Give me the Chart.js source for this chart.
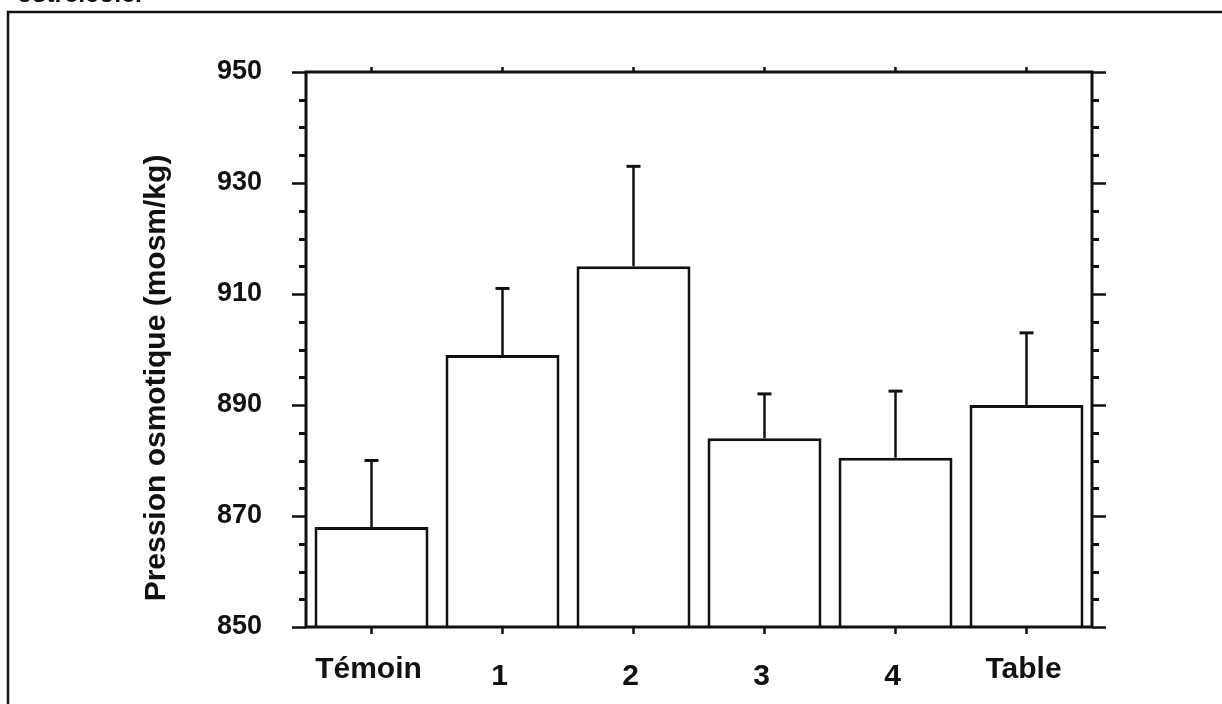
<!DOCTYPE html>
<html>
<head>
<meta charset="utf-8">
<script src="https://cdn.jsdelivr.net/npm/chart.js@4/dist/chart.umd.min.js"></script>
<style>
  html, body { margin: 0; padding: 0; background: #fff; }
  #wrap { position: relative; width: 1222px; height: 704px; overflow: hidden; }
  #caption { position: absolute; left: 17px; top: -21px; font: bold 25px 'Liberation Sans', Arial, sans-serif; color: #111; line-height: 29px; }
</style>
</head>
<body>
<div id="wrap">
  <div id="caption">ostréicole.</div>
  <canvas id="chart" width="1222" height="704"></canvas>
</div>
<script>
// data
const categories = ['Témoin', '1', '2', '3', '4', 'Table'];
const means = [868, 899, 915, 884, 880.5, 890];
const errors = [12, 12, 18, 8, 12, 13];
const yMin = 850;
const yMax = 950;
const yStep = 20;
const yMinorStep = 5;
const yTitle = 'Pression osmotique (mosm/kg)';

const FONT = "'Liberation Sans', Arial, Helvetica, sans-serif";
const INK = '#111';

// frame, ticks, error bars and labels drawn on top of the bars
const decorations = {
  id: 'decorations',
  afterDatasetsDraw(chart) {
    const ctx = chart.ctx;
    const area = chart.chartArea;
    const x = chart.scales.x;
    const y = chart.scales.y;
    ctx.save();
    ctx.strokeStyle = INK;
    ctx.fillStyle = INK;
    ctx.lineCap = 'butt';

    // page frame (only left and top edges are in the picture)
    ctx.lineWidth = 2.5;
    ctx.beginPath();
    ctx.moveTo(8, 720);
    ctx.lineTo(8, 12);
    ctx.lineTo(1240, 12);
    ctx.stroke();

    // error bars (upper half only)
    ctx.lineWidth = 2.5;
    means.forEach((m, i) => {
      const px = x.getPixelForValue(i);
      const y0 = y.getPixelForValue(m);
      const y1 = y.getPixelForValue(m + errors[i]);
      ctx.beginPath();
      ctx.moveTo(px, y0);
      ctx.lineTo(px, y1);
      ctx.stroke();
      ctx.lineWidth = 3;
      ctx.beginPath();
      ctx.moveTo(px - 7, y1);
      ctx.lineTo(px + 7, y1);
      ctx.stroke();
      ctx.lineWidth = 2.5;
    });

    // axis box
    ctx.lineWidth = 3;
    ctx.strokeRect(area.left, area.top, area.right - area.left, area.bottom - area.top);

    // y ticks, both sides, pointing outwards
    for (let v = yMin; v <= yMax; v += yMinorStep) {
      const py = Math.round(y.getPixelForValue(v)) + 0.5;
      const major = (v - yMin) % yStep === 0;
      const len = major ? 14 : 7;
      ctx.lineWidth = major ? 2.5 : 3;
      ctx.beginPath();
      ctx.moveTo(area.left - len, py);
      ctx.lineTo(area.left, py);
      ctx.moveTo(area.right, py);
      ctx.lineTo(area.right + len, py);
      ctx.stroke();
    }

    // x ticks at category centres, bottom and top
    ctx.lineWidth = 2.5;
    categories.forEach((c, i) => {
      const px = x.getPixelForValue(i);
      ctx.beginPath();
      ctx.moveTo(px, area.bottom);
      ctx.lineTo(px, area.bottom + 7);
      ctx.moveTo(px, area.top);
      ctx.lineTo(px, area.top - 5);
      ctx.stroke();
    });

    // category labels (digits sit a little lower in the original)
    ctx.font = 'bold 30px ' + FONT;
    ctx.textAlign = 'center';
    ctx.textBaseline = 'alphabetic';
    categories.forEach((c, i) => {
      const px = x.getPixelForValue(i) - 3;
      const isNum = /^\d+$/.test(c);
      ctx.fillText(c, px, area.bottom + (isNum ? 58 : 51));
    });

    // y axis title
    ctx.font = 'bold 30px ' + FONT;
    ctx.translate(157, 378);
    ctx.rotate(-Math.PI / 2);
    ctx.textBaseline = 'middle';
    ctx.fillText(yTitle, 0, 0);
    ctx.restore();
  }
};

new Chart(document.getElementById('chart'), {
  type: 'bar',
  data: {
    labels: categories,
    datasets: [{
      data: means,
      backgroundColor: '#fff',
      borderColor: INK,
      borderWidth: 3,
      borderSkipped: false,
      barPercentage: 0.87,
      categoryPercentage: 1
    }]
  },
  options: {
    responsive: false,
    animation: false,
    layout: { padding: { left: 0, top: 72, right: 130, bottom: 77 } },
    plugins: { legend: { display: false }, tooltip: { enabled: false } },
    scales: {
      x: {
        display: false
      },
      y: {
        min: yMin,
        max: yMax,
        afterFit(scale) { scale.width = 306; },
        grid: { display: false, drawTicks: false },
        border: { display: false },
        ticks: {
          stepSize: yStep,
          padding: 44,
          color: INK,
          font: { family: FONT, size: 27, weight: 'bold' }
        }
      }
    }
  },
  plugins: [decorations]
});
</script>
</body>
</html>
